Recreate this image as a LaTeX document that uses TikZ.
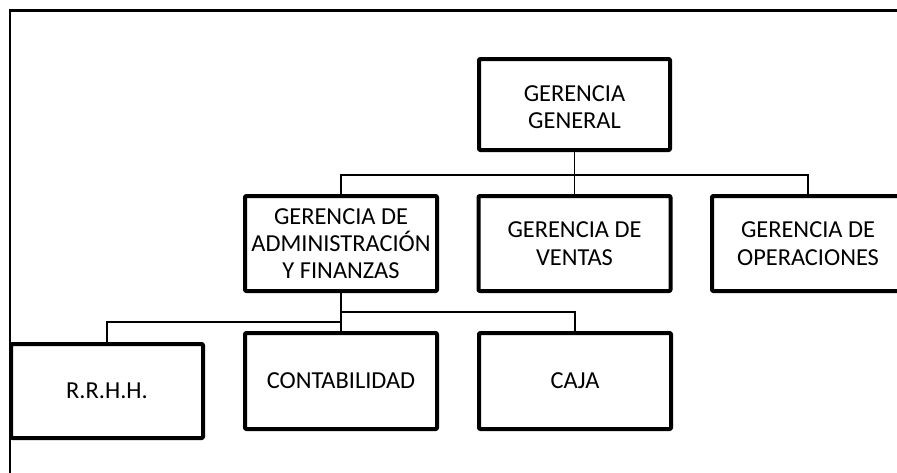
\documentclass[tikz,border=0pt]{standalone}
\usepackage{fontspec}
\setmainfont{Carlito}
\usetikzlibrary{backgrounds}
\begin{document}
\begin{tikzpicture}[x=0.75pt,y=-0.75pt,
  orgbox/.style={draw=black,line width=3pt,line join=round,rounded corners=0.8pt,fill=white,
    align=center,inner sep=0pt,minimum width=144pt,minimum height=71.25pt,
    font=\fontsize{18.3}{20.5}\selectfont},
  conn/.style={draw=black,line width=1.1pt},
  frame/.style={draw=black,line width=1.9pt}]
\useasboundingbox (0,0) rectangle (897,472);
\clip (0,0) rectangle (897,472);
\node[orgbox,minimum width=143.25pt,minimum height=68.25pt,text height=36.6pt,text depth=0pt] (gg) at (574.5,104.5) {GERENCIA\\GENERAL};
\node[orgbox] (adm) at (341,243.5) {GERENCIA DE\\ADMINISTRACIÓN\\Y FINANZAS};
\node[orgbox] (ven) at (574.5,243.5) {GERENCIA DE\\VENTAS};
\node[orgbox] (ope) at (808,243.5) {GERENCIA DE\\OPERACIONES};
\node[orgbox,minimum height=70.5pt] (rrh) at (107,391) {R.R.H.H.};
\node[orgbox,minimum height=72pt] (con) at (341,381) {CONTABILIDAD};
\node[orgbox,minimum height=72pt] (caj) at (575,381) {CAJA};
\begin{pgfonlayer}{background}
\draw[frame] (10,500) -- (10,10.5) -- (920,10.5);
\coordinate (b1) at (574.5,175);
\coordinate (b2) at (341,312);
\coordinate (b3) at (341,322);
\draw[conn] (gg.south) -- (b1);
\draw[conn] (adm.north) |- (b1) -| (ope.north);
\draw[conn] (b1) -- (ven.north);
\draw[conn] (adm.south) -- (con.north);
\draw[conn] (b2) -| (caj.north);
\draw[conn] (b3) -| (rrh.north);
\end{pgfonlayer}
\end{tikzpicture}
\end{document}
